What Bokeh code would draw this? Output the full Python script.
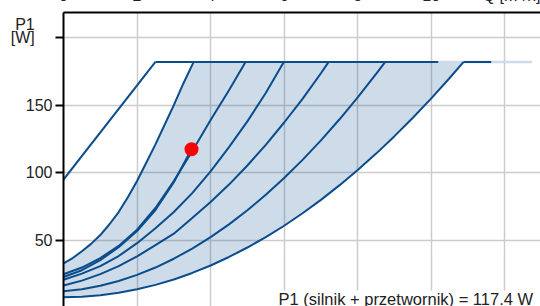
from bokeh.plotting import figure
from bokeh.models import FixedTicker, Label, Range1d
from bokeh.embed import file_html
from bokeh.resources import INLINE

# ---- data ----
x_ticks = [0, 2, 4, 6, 8, 10, 12]
x_title = "Q [m³/h]"
y_ticks = [0, 50, 100, 150, 200]

# straight limit line
lim_q = [0.0, 2.5]
lim_p = [95.0, 182.0]

# speed curves (Q [m3/h], P1 [W])
a_q = [0.0, 0.25, 0.5, 0.75, 1.0, 1.25, 1.5, 1.75, 2.0, 2.25, 2.5, 2.75, 3.0, 3.25, 3.54]
a_p = [33.0, 37.0, 42.0, 47.5, 54.0, 62.0, 71.0, 82.0, 94.0, 107.5, 121.0, 135.5, 150.0, 165.5, 182.0]

b_q = [0.0, 0.5, 1.0, 1.5, 2.0, 2.5, 3.0, 3.5, 4.0, 4.5, 4.95]
b_p = [25.0, 30.0, 37.0, 46.0, 58.0, 74.0, 94.0, 116.0, 139.0, 161.0, 182.0]

op_q = [0.0, 0.5, 1.0, 1.5, 2.0, 2.5, 3.0, 3.48]
op_p = [23.0, 28.0, 35.5, 45.0, 57.0, 72.5, 93.0, 117.4]

c_q = [0.0, 0.5, 1.0, 1.5, 2.0, 2.5, 3.0, 3.5, 4.0, 4.5, 5.0, 5.5, 5.99]
c_p = [21.0, 25.5, 31.0, 38.5, 48.0, 59.0, 71.0, 85.0, 101.0, 119.0, 138.0, 159.0, 182.0]

d_q = [0.0, 0.5, 1.0, 1.5, 2.0, 2.5, 3.0, 3.5, 4.0, 4.5, 5.0, 5.5, 6.0, 6.5, 7.0, 7.21]
d_p = [16.7, 20.3, 25.1, 31.1, 38.2, 46.5, 55.0, 66.6, 78.4, 91.3, 105.4, 120.7, 137.2, 154.7, 173.6, 182.0]

e_q = [0.0, 0.5, 1.0, 1.5, 2.0, 2.5, 3.0, 3.5, 4.0, 4.5, 5.0, 5.5, 6.0, 6.5, 7.0, 7.5, 8.0, 8.5, 8.75]
e_p = [12.5, 14.0, 16.6, 20.1, 24.6, 30.0, 36.5, 44.0, 52.5, 61.9, 72.3, 83.8, 96.2, 109.6, 124.0, 139.4, 155.8, 173.1, 182.0]

f_q = [0.0, 0.5, 1.0, 1.5, 2.0, 2.5, 3.0, 3.5, 4.0, 4.5, 5.0, 5.5, 6.0, 6.5, 7.0, 7.5, 8.0, 8.5, 9.0, 9.5, 10.0, 10.5, 10.88]
f_p = [8.0, 8.4, 9.5, 11.3, 13.9, 17.2, 21.2, 26.0, 31.5, 37.8, 44.8, 52.5, 60.9, 70.1, 80.0, 90.7, 102.1, 114.2, 127.1, 140.7, 155.0, 170.1, 182.0]

# top (max power) line segments
top_dark1_q = [2.5, 10.19]
top_dark2_q = [10.88, 11.63]
top_light_q = [10.19, 12.74]
top_p = [182.0, 182.0]

# operating point
op_point_q = [3.48]
op_point_p = [117.4]
result_text = "P1 (silnik + przetwornik) = 117.4 W"

DARK = "#0a4d8c"
LIGHT = "#cedbe8"
FONT = "Liberation Sans"
TXT = "#222222"
NB = "\u00a0"

SHIFT = 22  # canvas part above the window (top tick labels are cut there)

p = figure(width=540, height=306 + SHIFT, output_backend="svg",
           toolbar_location=None,
           x_range=Range1d(0, 12.97), y_range=Range1d(1.2, 218.5),
           x_axis_location="above", min_border_left=63,
           min_border_top=12 + SHIFT, min_border_right=0, min_border_bottom=0)
p.margin = (-SHIFT, 0, 0, 0)
p.outline_line_color = None
p.background_fill_color = "white"

# top axis
p.xaxis.ticker = FixedTicker(ticks=x_ticks)
p.xaxis.major_label_overrides = {12: NB * 11 + x_title}
p.xaxis.major_label_text_font = FONT
p.xaxis.major_label_text_font_size = "16px"
p.xaxis.major_label_text_color = TXT
p.xaxis.major_label_standoff = 9
p.xaxis.major_tick_out = 0
p.xaxis.major_tick_in = 0
p.xaxis.minor_tick_out = 0
p.xaxis.minor_tick_in = 0
p.xaxis.axis_line_color = "black"
p.xaxis.axis_line_width = 2

# left axis
p.yaxis.ticker = FixedTicker(ticks=y_ticks)
p.yaxis.major_label_overrides = {200: "P1" + NB * 4 + "\n[W]" + NB * 4 + "\n"}
p.yaxis.major_label_text_font = FONT
p.yaxis.major_label_text_font_size = "16px"
p.yaxis.major_label_text_line_height = 0.78
p.yaxis.major_label_text_color = TXT
p.yaxis.major_label_standoff = 3
p.yaxis.major_tick_out = 8
p.yaxis.major_tick_in = 0
p.yaxis.major_tick_line_width = 2
p.yaxis.minor_tick_out = 0
p.yaxis.minor_tick_in = 0
p.yaxis.axis_line_color = "black"
p.yaxis.axis_line_width = 2

p.xgrid.ticker = FixedTicker(ticks=x_ticks)
p.ygrid.ticker = FixedTicker(ticks=y_ticks)
p.grid.grid_line_color = "#cccccc"
p.grid.grid_line_width = 1.5

# shaded working area: left boundary curve A, top, lowest curve F back
fill_q = a_q + f_q[::-1]
fill_p = a_p + f_p[::-1]
p.patch(fill_q, fill_p, fill_color=DARK, fill_alpha=0.2, line_color=None)

p.line(top_light_q, top_p, line_color=LIGHT, line_width=2.5)
p.line(top_dark1_q, top_p, line_color=DARK, line_width=2)
p.line(top_dark2_q, top_p, line_color=DARK, line_width=2)
p.line(lim_q, lim_p, line_color=DARK, line_width=2)

for qs, ps in [(a_q, a_p), (b_q, b_p), (op_q, op_p), (c_q, c_p),
               (d_q, d_p), (e_q, e_p), (f_q, f_p)]:
    p.line(qs, ps, line_color=DARK, line_width=2, line_join="round")

p.scatter(op_point_q, op_point_p, size=14, fill_color="#ff0000",
          line_color=None)

# result text
p.add_layout(Label(x=5.845, y=6.4, text=result_text, text_align="left",
                   text_baseline="alphabetic", text_font=FONT,
                   text_font_size="16.5px", text_color=TXT,
                   background_fill_color="white"))

open("out.html", "w").write(file_html(p, INLINE))
